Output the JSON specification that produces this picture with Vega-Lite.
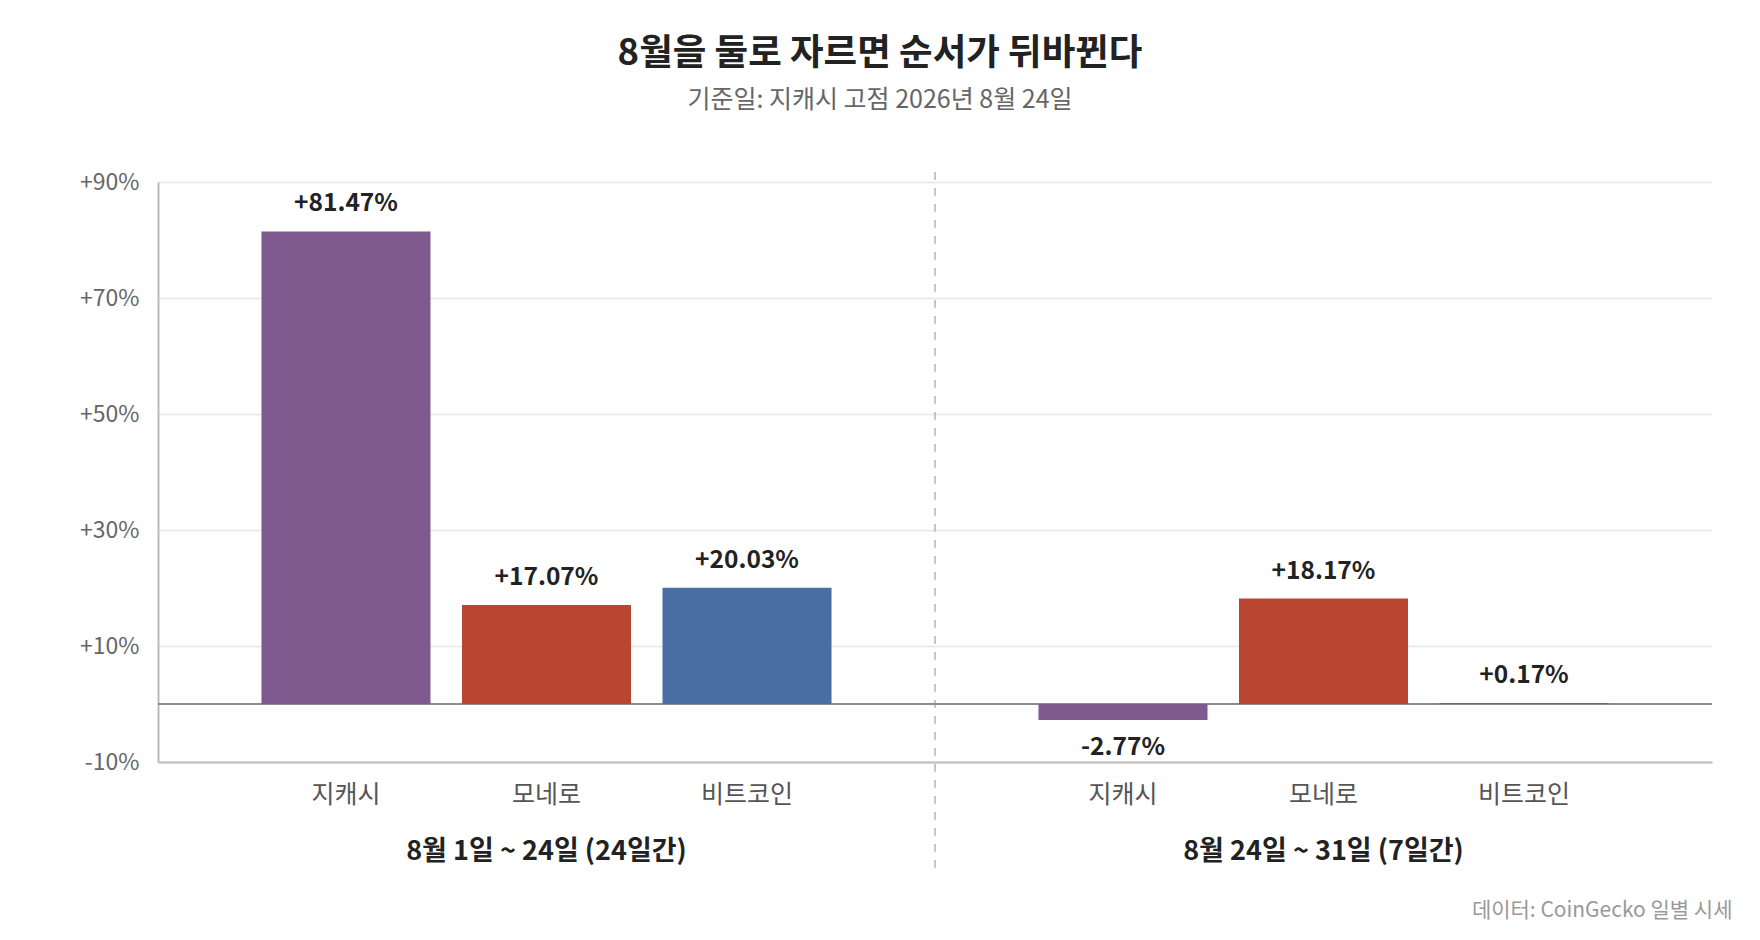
{
  "$schema": "https://vega.github.io/schema/vega-lite/v6.json",
  "width": 1554,
  "height": 580,
  "autosize": {"type": "none"},
  "padding": {"left": 158, "top": 182, "right": 48, "bottom": 178},
  "background": "#ffffff",
  "config": {
    "font": "Noto Sans CJK KR",
    "view": {"stroke": null}
  },
  "title": {
    "text": "8월을 둘로 자르면 순서가 뒤바뀐다",
    "subtitle": "기준일: 지캐시 고점 2026년 8월 24일",
    "anchor": "middle",
    "frame": "group",
    "dx": -55,
    "offset": 58,
    "fontSize": 36.5,
    "fontWeight": "bold",
    "color": "#222222",
    "subtitleFontSize": 25,
    "subtitleColor": "#666666",
    "subtitlePadding": 16
  },
  "data": {
    "values": [
      {"period": "8월 1일 ~ 24일 (24일간)", "coin": "지캐시", "value": 81.47},
      {"period": "8월 1일 ~ 24일 (24일간)", "coin": "모네로", "value": 17.07},
      {"period": "8월 1일 ~ 24일 (24일간)", "coin": "비트코인", "value": 20.03},
      {"period": "8월 24일 ~ 31일 (7일간)", "coin": "지캐시", "value": -2.77},
      {"period": "8월 24일 ~ 31일 (7일간)", "coin": "모네로", "value": 18.17},
      {"period": "8월 24일 ~ 31일 (7일간)", "coin": "비트코인", "value": 0.17}
    ]
  },
  "transform": [
    {"calculate": "(datum.value > 0 ? '+' : '-') + format(abs(datum.value), '.2f') + '%'", "as": "label"}
  ],
  "encoding": {
    "x": {
      "field": "period",
      "type": "nominal",
      "sort": ["8월 1일 ~ 24일 (24일간)", "8월 24일 ~ 31일 (7일간)"],
      "scale": {"paddingInner": 0, "paddingOuter": 0},
      "axis": {
        "title": "데이터: CoinGecko 일별 시세",
        "titleFontSize": 21,
        "titleFontWeight": "normal",
        "titleColor": "#999999",
        "titleAnchor": "end",
        "titleAlign": "right",
        "titleBaseline": "middle",
        "titleX": 1574,
        "titleY": 148,
        "labelAngle": 0,
        "labelFontSize": 27,
        "labelFontWeight": "bold",
        "labelColor": "#222222",
        "labelBaseline": "middle",
        "labelPadding": 89,
        "labelLimit": 0,
        "ticks": false,
        "domainColor": "#bbbbbb",
        "domainWidth": 2
      }
    },
    "y": {
      "type": "quantitative",
      "scale": {"domain": [-10, 90], "nice": false, "zero": false},
      "axis": {
        "title": null,
        "values": [-10, 10, 30, 50, 70, 90],
        "labelExpr": "(datum.value > 0 ? '+' : '') + datum.value + '%'",
        "labelFontSize": 23,
        "labelColor": "#666666",
        "labelPadding": 19,
        "ticks": false,
        "grid": true,
        "gridColor": "#e6e6e6",
        "gridWidth": 1.5,
        "domainColor": "#bbbbbb",
        "domainWidth": 2
      }
    }
  },
  "layer": [
    {
      "mark": {"type": "rule", "strokeDash": [7, 9], "color": "#c4c4c4", "strokeWidth": 2},
      "encoding": {
        "x": {"datum": "8월 24일 ~ 31일 (7일간)", "type": "nominal", "bandPosition": 0},
        "y": {"datum": 91.7},
        "y2": {"datum": -29}
      }
    },
    {
      "mark": {"type": "rule", "color": "#8c8c8c", "strokeWidth": 2},
      "encoding": {"y": {"datum": 0}, "x": null}
    },
    {
      "mark": {"type": "bar"},
      "encoding": {
        "xOffset": {
          "field": "coin",
          "type": "nominal",
          "sort": ["지캐시", "모네로", "비트코인"],
          "scale": {"paddingInner": 0.157, "paddingOuter": 0.516}
        },
        "y": {"field": "value", "type": "quantitative"},
        "y2": {"datum": 0},
        "color": {
          "field": "coin",
          "type": "nominal",
          "scale": {
            "domain": ["지캐시", "모네로", "비트코인"],
            "range": ["#7e5a8e", "#b84631", "#4a6ea3"]
          },
          "legend": null
        }
      }
    },
    {
      "transform": [{"filter": "datum.value >= 0"}],
      "mark": {"type": "text", "baseline": "middle", "dy": -27, "fontSize": 24.5, "fontWeight": "bold", "color": "#222222"},
      "encoding": {
        "xOffset": {"field": "coin", "type": "nominal", "sort": ["지캐시", "모네로", "비트코인"]},
        "y": {"field": "value", "type": "quantitative"},
        "text": {"field": "label"}
      }
    },
    {
      "transform": [{"filter": "datum.value < 0"}],
      "mark": {"type": "text", "baseline": "middle", "dy": 28, "fontSize": 24.5, "fontWeight": "bold", "color": "#222222"},
      "encoding": {
        "xOffset": {"field": "coin", "type": "nominal", "sort": ["지캐시", "모네로", "비트코인"]},
        "y": {"field": "value", "type": "quantitative"},
        "text": {"field": "label"}
      }
    },
    {
      "mark": {"type": "text", "baseline": "middle", "dy": 33, "fontSize": 25, "color": "#555555"},
      "encoding": {
        "xOffset": {"field": "coin", "type": "nominal", "sort": ["지캐시", "모네로", "비트코인"]},
        "y": {"datum": -10},
        "text": {"field": "coin"}
      }
    }
  ]
}
